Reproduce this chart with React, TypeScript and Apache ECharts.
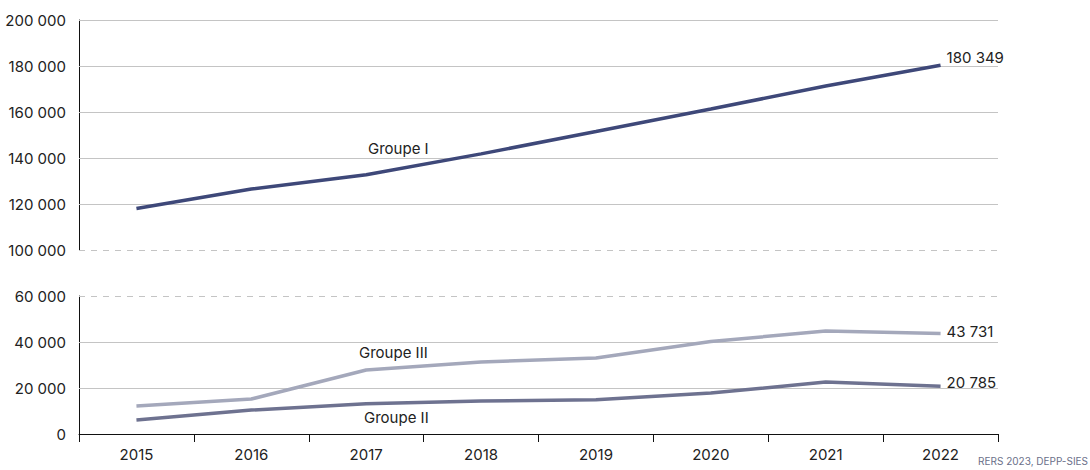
import React, { useEffect, useRef } from "react";
import * as echarts from "echarts";

const years = ["2015", "2016", "2017", "2018", "2019", "2020", "2021", "2022"];
const groupe1 = [118000, 126500, 132700, 141800, 151500, 161300, 171300, 180349];
const groupe3 = [12200, 15200, 27800, 31300, 33000, 40200, 44800, 43731];
const groupe2 = [6100, 10400, 13200, 14300, 14900, 17800, 22600, 20785];
const topTicks = [120000, 140000, 160000, 180000, 200000];
const bottomTicks = [20000, 40000];
const topBreak = 100000;
const bottomBreak = 60000;

const fmt = (v: number) => String(Math.round(v)).replace(/\B(?=(\d{3})+(?!\d))/g, " ");
const FONT = "Inter";
const FS = 15;
const GRID_COLOR = "#c4c4c4";

function gridLines(ticks: number[], dashed: number) {
  return {
    silent: true,
    symbol: "none",
    label: { show: false },
    animation: false,
    data: [
      ...ticks.map((t) => ({ yAxis: t, lineStyle: { color: GRID_COLOR, width: 1, type: "solid" } })),
      { yAxis: dashed, lineStyle: { color: GRID_COLOR, width: 1, type: [6, 6] } },
    ],
  };
}

function endLabel(offset: number[]) {
  return {
    show: true,
    distance: 6,
    offset,
    color: "#222",
    fontSize: FS,
    fontFamily: FONT,
    formatter: (p: any) => fmt(p.value),
  };
}

export default function App() {
  const ref = useRef<HTMLDivElement>(null);
  useEffect(() => {
    if (!ref.current) return;
    const chart = echarts.init(ref.current, null, { renderer: "svg" });
    const yLabel = {
      color: "#222",
      fontSize: FS,
      fontFamily: FONT,
      margin: 13,
      formatter: (v: number) => fmt(v),
    };
    chart.setOption({
      animation: false,
      textStyle: { fontFamily: FONT },
      grid: [
        { left: 79, right: 92, top: 20, height: 230 },
        { left: 79, right: 92, top: 296, height: 138 },
      ],
      xAxis: [
        {
          gridIndex: 0,
          type: "category",
          data: years,
          boundaryGap: true,
          show: false,
        },
        {
          gridIndex: 1,
          type: "category",
          data: years,
          boundaryGap: true,
          axisLine: { show: true, lineStyle: { color: "#111", width: 1 } },
          axisTick: { show: true, length: 8, lineStyle: { color: "#111" } },
          axisLabel: { color: "#222", fontSize: FS, fontFamily: FONT, margin: 13 },
        },
      ],
      yAxis: [
        {
          gridIndex: 0,
          type: "value",
          min: 100000,
          max: 200000,
          interval: 20000,
          axisLine: { show: true, lineStyle: { color: "#111", width: 1 } },
          axisTick: { show: false },
          splitLine: { show: false },
          axisLabel: yLabel,
        },
        {
          gridIndex: 1,
          type: "value",
          min: 0,
          max: 60000,
          interval: 20000,
          axisLine: { show: true, lineStyle: { color: "#111", width: 1 } },
          axisTick: { show: false },
          splitLine: { show: false },
          axisLabel: yLabel,
        },
      ],
      series: [
        {
          name: "Groupe I",
          type: "line",
          xAxisIndex: 0,
          yAxisIndex: 0,
          data: groupe1,
          symbol: "none",
          z: 5,
          lineStyle: { color: "#3e4879", width: 3.5 },
          itemStyle: { color: "#3e4879" },
          endLabel: endLabel([0, -8]),
          markLine: gridLines(topTicks, topBreak),
        },
        {
          name: "Groupe III",
          type: "line",
          xAxisIndex: 1,
          yAxisIndex: 1,
          data: groupe3,
          symbol: "none",
          z: 5,
          lineStyle: { color: "#a4a8bb", width: 3.5 },
          itemStyle: { color: "#a4a8bb" },
          endLabel: endLabel([0, -2]),
          markLine: gridLines(bottomTicks, bottomBreak),
        },
        {
          name: "Groupe II",
          type: "line",
          xAxisIndex: 1,
          yAxisIndex: 1,
          data: groupe2,
          symbol: "none",
          z: 6,
          lineStyle: { color: "#6e7290", width: 3.5 },
          itemStyle: { color: "#6e7290" },
          endLabel: endLabel([0, -4]),
        },
      ],
      graphic: [
        { type: "text", left: 368, top: 141, style: { text: "Groupe I", fontSize: FS, fontFamily: FONT, fill: "#222" } },
        { type: "text", left: 359, top: 345, style: { text: "Groupe III", fontSize: FS, fontFamily: FONT, fill: "#222" } },
        { type: "text", left: 364, top: 410, style: { text: "Groupe II", fontSize: FS, fontFamily: FONT, fill: "#222" } },
        { type: "text", right: 2, top: 456, style: { text: "RERS 2023, DEPP-SIES", fontSize: 10, fontFamily: FONT, fill: "#6b7089" } },
      ],
    });
    return () => chart.dispose();
  }, []);
  return <div ref={ref} style={{ position: "absolute", left: 0, top: 0, width: 1090, height: 470 }} />;
}
